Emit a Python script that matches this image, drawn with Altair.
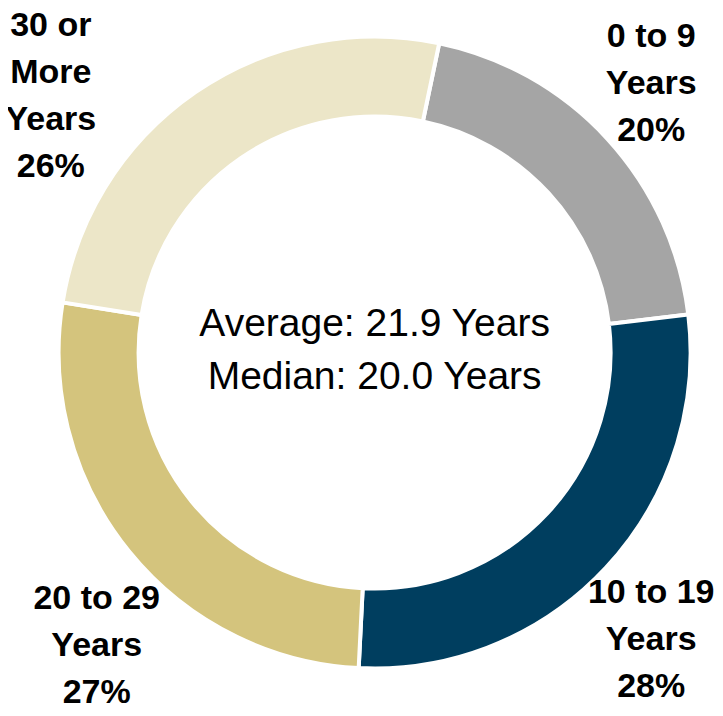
import math
import altair as alt
import pandas as pd

# ---- data ----
categories = ["0 to 9", "10 to 19", "20 to 29", "30 or More"]
label_text = ["0 to 9\nYears", "10 to 19\nYears", "20 to 29\nYears", "30 or\nMore\nYears"]
shares = [20, 28, 27, 26]
colors = ["#A5A5A5", "#003E5F", "#D4C47D", "#ECE6C8"]
center_lines = ["Average: 21.9 Years", "Median: 20.0 Years"]

df = pd.DataFrame({
    "idx": list(range(len(categories))),
    "category": categories,
    "share": shares,
    "label": [f"{t}\n{s}%" for t, s in zip(label_text, shares)],
})
center_df = pd.DataFrame({"t": ["\n".join(center_lines)]})

# ---- layout ----
W, H = 707, 700
CX, CY = 366.6, 344.5
START = math.radians(11.8)
total = sum(shares)
theta_scale = alt.Scale(domain=[0, total], range=[START, START + 2 * math.pi])
color_scale = alt.Scale(domain=categories, range=colors)
LABEL_R = 400
nudges = {
    "0 to 9": (-18, -45),
    "10 to 19": (-16, -32),
    "20 to 29": (33, -5),
    "30 or More": (-97, 3),
}
FONT = "Liberation Sans, Arial, sans-serif"

arcs = alt.Chart(df).mark_arc(
    x=CX, y=CY, outerRadius=316, innerRadius=236, stroke="white", strokeWidth=4
).encode(
    theta=alt.Theta("share:Q", stack=True, scale=theta_scale),
    color=alt.Color("category:N", scale=color_scale, legend=None),
    order=alt.Order("idx:Q"),
)

base = alt.Chart(df).transform_window(
    cum="sum(share)", sort=[alt.SortField("idx")], frame=[None, 0]
).transform_calculate(mid="datum.cum - datum.share / 2")

layers = [arcs]
for cat in categories:
    dx, dy = nudges[cat]
    layers.append(
        base.transform_filter(alt.datum.category == cat).mark_text(
            x=CX, y=CY, radius=LABEL_R, dx=dx, dy=dy,
            font=FONT, fontSize=34, fontWeight="bold", color="black",
            align="center", baseline="middle", lineBreak="\n", lineHeight=47,
        ).encode(
            theta=alt.Theta("mid:Q", scale=theta_scale, stack=None),
            text="label:N",
        )
    )

center = alt.Chart(center_df).mark_text(
    x=CX, y=CY, dy=-29, font=FONT, fontSize=39,
    color="black", align="center", baseline="middle", lineBreak="\n", lineHeight=53,
).encode(text="t:N")
layers.append(center)

chart = alt.layer(*layers).properties(
    width=W, height=H, autosize="none", padding=0, background="white"
).configure_view(stroke=None)

chart.save("out.html", embed_options={"renderer": "svg", "actions": False})
